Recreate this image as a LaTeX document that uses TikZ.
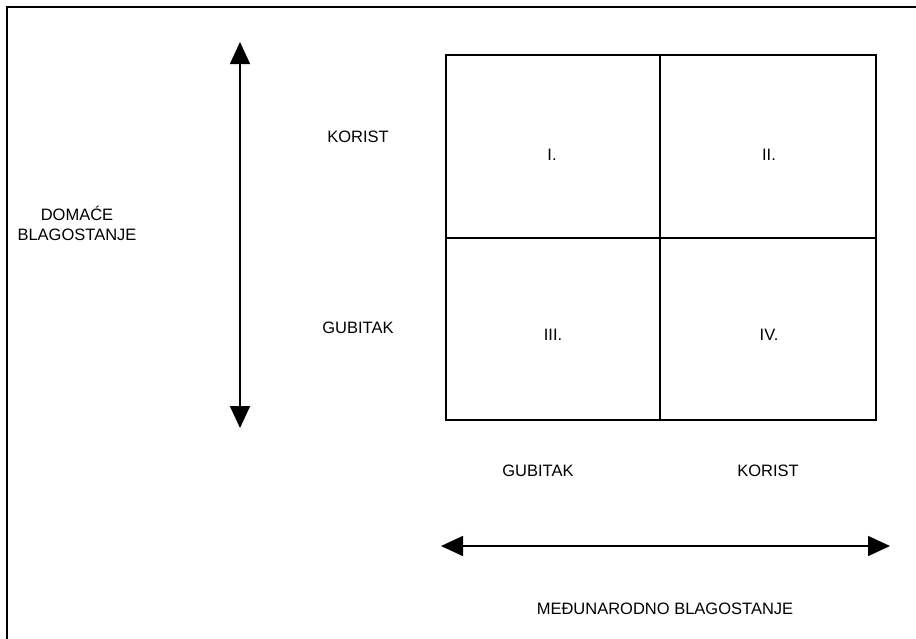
\documentclass[tikz,border=0pt]{standalone}
\usepackage{fontspec}
\setmainfont{Liberation Sans}
\usetikzlibrary{arrows.meta}
\begin{document}
\begin{tikzpicture}[x=1pt,y=-1pt,
  lbl/.style={font=\fontsize{16.5}{20}\selectfont,inner sep=0pt,align=center},
  cell/.style={draw,line width=1.6pt,minimum width=#1,inner sep=0pt},
  axis/.style={line width=1.6pt,{Triangle[length=22pt,width=20pt]}-{Triangle[length=22pt,width=20pt]}}]
\useasboundingbox (0,0) rectangle (916,638);
% outer frame (right and bottom edges fall outside the page)
\draw[line width=2.2pt] (7,660) -- (7,7) -- (940,7);
% matrix of four quadrants
\node[cell=214pt,minimum height=183pt] (q1) at (553,146.5) {};
\node[cell=216pt,minimum height=183pt] (q2) at (768,146.5) {};
\node[cell=214pt,minimum height=182pt] (q3) at (553,329) {};
\node[cell=216pt,minimum height=182pt] (q4) at (768,329) {};
\node[lbl] (l1) at (552,155) {I.};
\node[lbl] (l2) at (769,155) {II.};
\node[lbl] (l3) at (553,335) {III.};
\node[lbl] (l4) at (769,335) {IV.};
% domestic welfare axis
\coordinate (vt) at (240,42);
\coordinate (vb) at (240,428);
\draw[axis] (vb) -- (vt);
\node[lbl] (dom) at (77,223) {DOMAĆE\\BLAGOSTANJE};
\node[lbl] (vk) at (358,137) {KORIST};
\node[lbl] (vg) at (358,328) {GUBITAK};
% international welfare axis
\coordinate (hl) at (441,546);
\coordinate (hr) at (890,546);
\draw[axis] (hl) -- (hr);
\node[lbl] (hg) at (538,471) {GUBITAK};
\node[lbl] (hk) at (768,471) {KORIST};
\node[lbl] (med) at (665,609) {MEĐUNARODNO BLAGOSTANJE};
\end{tikzpicture}
\end{document}
